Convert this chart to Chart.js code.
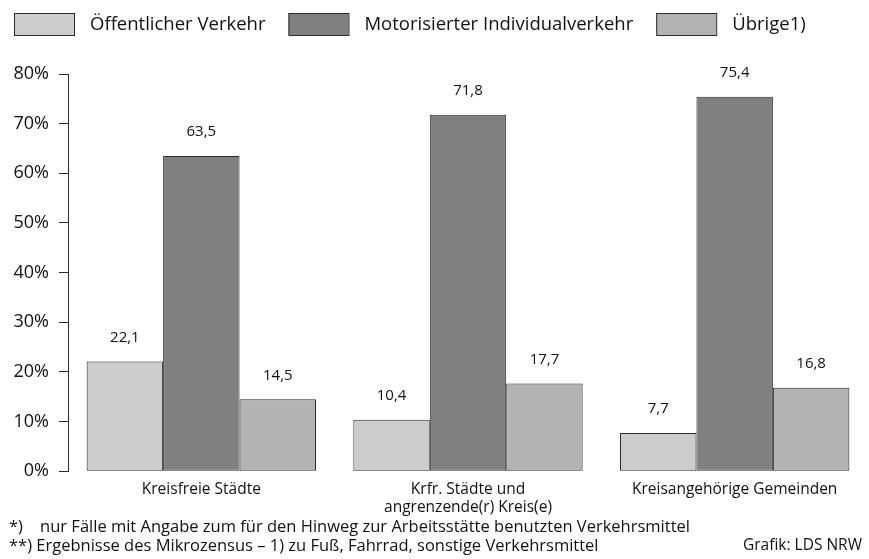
<!DOCTYPE html>
<html lang="de">
<head>
<meta charset="utf-8">
<title>Verkehrsmittel zur Arbeitsstätte</title>
<script src="https://cdn.jsdelivr.net/npm/chart.js@4/dist/chart.umd.min.js"></script>
<style>
  html, body { margin: 0; padding: 0; background: #fff; }
  #wrap { position: relative; width: 869px; height: 559px; }
  #chart { position: absolute; left: 0; top: 0; }
  .note { position: absolute; font-family: "Open Sans", "Noto Sans", sans-serif; font-size: 16.5px; color: #111; white-space: nowrap; line-height: 19px; }
  .credit { font-size: 15.5px; }
</style>
</head>
<body>
<div id="wrap">
  <canvas id="chart" width="869" height="559"></canvas>
  <div class="note" style="left:9px; top:516px;">*)&nbsp;&nbsp;&nbsp;&nbsp;nur Fälle mit Angabe zum für den Hinweg zur Arbeitsstätte benutzten Verkehrsmittel<br>**) Ergebnisse des Mikrozensus – 1) zu Fuß, Fahrrad, sonstige Verkehrsmittel</div>
  <div class="note credit" style="right:7px; top:535px;">Grafik: LDS NRW</div>
</div>
<script>
// Gemeindetypen (Kategorien der x-Achse)
const categories = [
  "Kreisfreie Städte",
  ["Krfr. Städte und", "angrenzende(r) Kreis(e)"],
  "Kreisangehörige Gemeinden"
];

// Anteile in Prozent je Verkehrsmittel
const seriesNames = ["Öffentlicher Verkehr", "Motorisierter Individualverkehr", "Übrige1)"];
const oeffentlich = [22.1, 10.4, 7.7];
const motorisiert = [63.5, 71.8, 75.4];
const uebrige     = [14.5, 17.7, 16.8];

// Achsenbeschriftung
const yTicks = [0, 10, 20, 30, 40, 50, 60, 70, 80];

const fillColors = ["#cccccc", "#808080", "#b3b3b3"];
const edgeColor = "#2b2b2b";
const fontFamily = '"Open Sans", "Noto Sans", sans-serif';

const fmt = v => v.toLocaleString("de-DE", { minimumFractionDigits: 1, maximumFractionDigits: 1 });

// Werte über den Säulen
const valueLabels = {
  id: "valueLabels",
  afterDatasetsDraw(chart) {
    const ctx = chart.ctx;
    ctx.save();
    ctx.font = "15px " + fontFamily;
    ctx.fillStyle = "#111";
    ctx.textAlign = "center";
    ctx.textBaseline = "middle";
    chart.data.datasets.forEach((ds, i) => {
      chart.getDatasetMeta(i).data.forEach((bar, j) => {
        ctx.fillText(fmt(ds.data[j]), bar.x, bar.y - 24);
      });
    });
    ctx.restore();
  }
};

// Legende in einer Zeile über dem Diagramm: Kästchen, Abstand, Text
const boxLegend = {
  id: "boxLegend",
  afterDraw(chart) {
    const ctx = chart.ctx;
    ctx.save();
    ctx.font = "18.5px " + fontFamily;
    ctx.textBaseline = "middle";
    ctx.textAlign = "left";
    let x = 14;
    chart.data.datasets.forEach(ds => {
      ctx.fillStyle = ds.backgroundColor;
      ctx.fillRect(x, 13, 60, 22);
      ctx.strokeStyle = edgeColor;
      ctx.lineWidth = 1;
      ctx.strokeRect(x + 0.5, 13.5, 60, 22);
      ctx.fillStyle = "#111";
      ctx.fillText(ds.label, x + 76, 24.5);
      x += 76 + ctx.measureText(ds.label).width + 23;
    });
    ctx.restore();
  }
};

new Chart(document.getElementById("chart"), {
  type: "bar",
  data: {
    labels: categories,
    datasets: [oeffentlich, motorisiert, uebrige].map((values, i) => ({
      label: seriesNames[i],
      data: values,
      backgroundColor: fillColors[i],
      borderColor: edgeColor,
      borderWidth: 1,
      borderSkipped: false,
      categoryPercentage: 0.86,
      barPercentage: 1.0
    }))
  },
  options: {
    responsive: false,
    animation: false,
    devicePixelRatio: 1,
    layout: { padding: { left: 0, right: 1, top: 74, bottom: 33 } },
    plugins: {
      legend: { display: false },
      tooltip: { enabled: false }
    },
    scales: {
      x: {
        grid: { display: false, drawTicks: false },
        border: { display: false },
        ticks: {
          color: "#111",
          padding: 10,
          maxRotation: 0,
          autoSkip: false,
          font: { family: fontFamily, size: 15.5, lineHeight: 1.12 }
        }
      },
      y: {
        min: 0,
        max: 80,
        afterFit(scale) { scale.width = 68; },
        afterBuildTicks(scale) { scale.ticks = yTicks.map(v => ({ value: v })); },
        grid: {
          drawOnChartArea: false,
          drawTicks: true,
          tickLength: 9,
          color: edgeColor
        },
        border: { display: true, color: edgeColor, width: 1 },
        ticks: {
          color: "#111",
          padding: 10,
          font: { family: fontFamily, size: 18 },
          callback: v => v + "%"
        }
      }
    }
  },
  plugins: [valueLabels, boxLegend]
});
</script>
</body>
</html>
